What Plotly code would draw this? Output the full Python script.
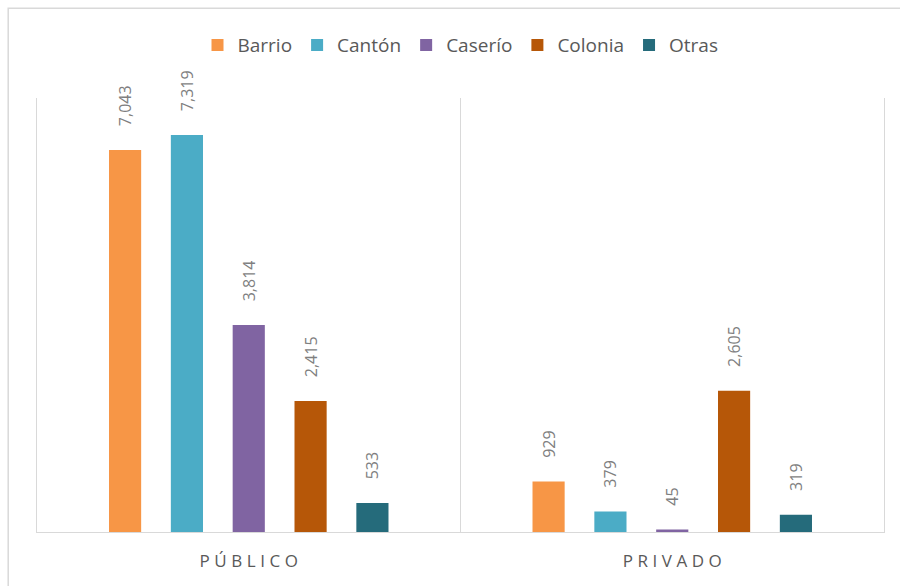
import plotly.graph_objects as go

# categories and series
categorias = ['PÚBLICO', 'PRIVADO']
etiquetas_eje = ['P\u2009\u200aÚ\u2009\u200aB\u2009\u200aL\u2009\u200aI\u2009\u200aC\u2009\u200aO',
                 'P\u2009\u200aR\u2009\u200aI\u2009\u200aV\u2009\u200aA\u2009\u200aD\u2009\u200aO']

barrio = [7043, 929]
canton = [7319, 379]
caserio = [3814, 45]
colonia = [2415, 2605]
otras = [533, 319]

series = [
    ('Barrio', barrio, '#F79646'),
    ('Cantón', canton, '#4BACC6'),
    ('Caserío', caserio, '#8064A2'),
    ('Colonia', colonia, '#B65708'),
    ('Otras', otras, '#256B7B'),
]

fig = go.Figure()

for nombre, valores, color in series:
    fig.add_trace(go.Bar(
        x=categorias, y=valores, name=nombre,
        marker=dict(color=color, line=dict(width=0)),
        texttemplate='\u00a0\u00a0\u00a0\u00a0\u00a0%{y:,}',
        textposition='outside', textangle=-90, constraintext='none',
        textfont=dict(family='Open Sans', size=16, color='#7F7F7F'),
        cliponaxis=False,
    ))

fig.update_layout(
    width=900, height=586,
    margin=dict(l=37, r=16, t=98, b=54),
    paper_bgcolor='white', plot_bgcolor='white',
    barmode='group', bargap=0.27, bargroupgap=0.48,
    font=dict(family='Open Sans', color='#595959'),
    legend=dict(orientation='h', x=0.5, xanchor='center', y=1.122, yanchor='middle',
                font=dict(size=19, color='#595959'), itemclick=False),
    showlegend=True,
)

fig.update_xaxes(
    tickmode='array', tickvals=categorias, ticktext=etiquetas_eje,
    tickson='boundaries', ticks='', showgrid=True, gridcolor='#D9D9D9', gridwidth=1,
    showline=True, linecolor='#D9D9D9', linewidth=1, ticklabelstandoff=14,
    tickfont=dict(size=17, color='#595959'),
)
# left and right plot edges drawn by the (label-less) y axis line
fig.update_yaxes(range=[0, 8000], showticklabels=False, ticks='', showgrid=False,
                 zeroline=False, showline=True, mirror=True, linecolor='#D9D9D9', linewidth=1)

# outer chart border
fig.add_shape(type='rect', xref='paper', yref='paper',
              x0=-0.034, x1=1.2, y0=-0.3, y1=1.207,
              line=dict(color='#D9D9D9', width=1.5), layer='below')

fig.write_html('out.html', config={'displayModeBar': False},
               post_script="document.body.style.margin='0';")
